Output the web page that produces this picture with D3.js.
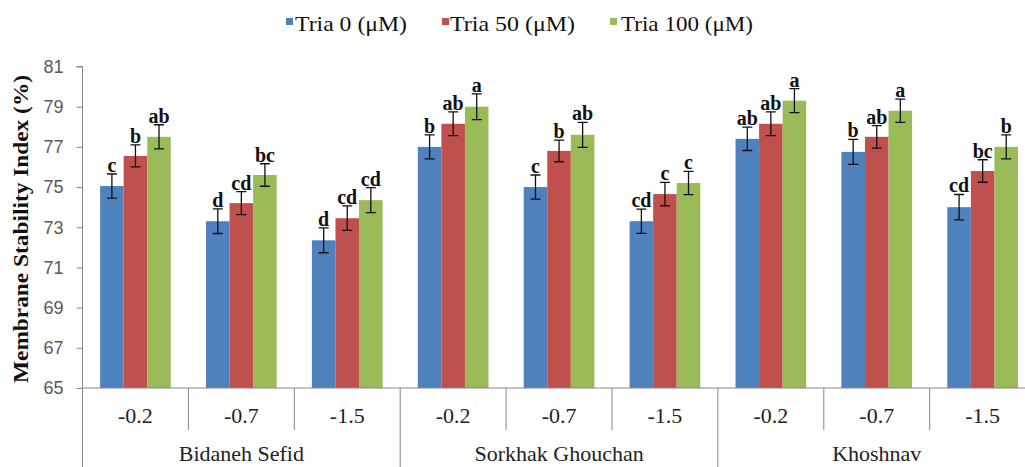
<!DOCTYPE html>
<html>
<head>
<meta charset="utf-8">
<script src="https://cdn.jsdelivr.net/npm/d3@7/dist/d3.min.js"></script>
<style>
  html, body { margin: 0; padding: 0; background: #fff; }
  svg { display: block; }
</style>
</head>
<body>
<svg id="chart" width="1025" height="467"></svg>
<script>
// ---------- DATA ----------
const cultivars = ["Bidaneh Sefid", "Sorkhak Ghouchan", "Khoshnav"];
const potentials = ["-0.2", "-0.7", "-1.5"];
const seriesNames = ["Tria 0 (\u03bcM)", "Tria 50 (\u03bcM)", "Tria 100 (\u03bcM)"];
const yTicks = [65, 67, 69, 71, 73, 75, 77, 79, 81];

// values per category (cultivar x potential), order follows cultivars then potentials
const tria0   = [75.05, 73.3, 72.35, 77.0, 75.0, 73.3, 77.4, 76.75, 74.0];
const tria50  = [76.55, 74.2, 73.45, 78.15, 76.8, 74.65, 78.15, 77.5, 75.8];
const tria100 = [77.5, 75.6, 74.35, 79.0, 77.6, 75.2, 79.3, 78.8, 77.0];

const err0   = [0.60, 0.61, 0.62, 0.60, 0.60, 0.60, 0.58, 0.62, 0.63];
const err50  = [0.55, 0.57, 0.61, 0.59, 0.54, 0.58, 0.59, 0.56, 0.56];
const err100 = [0.60, 0.56, 0.62, 0.64, 0.62, 0.58, 0.60, 0.58, 0.60];

const let0   = ["c", "d", "d", "b", "c", "cd", "ab", "b", "cd"];
const let50  = ["b", "cd", "cd", "ab", "b", "c", "ab", "ab", "bc"];
const let100 = ["ab", "bc", "cd", "a", "ab", "c", "a", "a", "b"];

// ---------- LAYOUT / STYLE ----------
const colors = ["#4F81BD", "#C0504D", "#9BBB59"];
const serif = "'Liberation Serif', 'Times New Roman', serif";
const sans = "'Liberation Sans', Arial, sans-serif";
const axisColor = "#868686";

const plotLeft = 82.5, plotRight = 1035.6, plotTop = 66.5, plotBottom = 388;

const svg = d3.select("#chart");

const categories = [];
cultivars.forEach(c => potentials.forEach(p => categories.push(c + "|" + p)));

const seriesValues = [tria0, tria50, tria100];
const seriesErr = [err0, err50, err100];
const seriesLetters = [let0, let50, let100];

const x0 = d3.scaleBand().domain(categories).range([plotLeft, plotRight]).paddingInner(0).paddingOuter(0);
const x1 = d3.scaleBand().domain(d3.range(seriesNames.length)).range([0, x0.bandwidth()])
  .paddingInner(0).paddingOuter(0.747);
const y = d3.scaleLinear().domain([65, 81]).range([plotBottom, plotTop]);

// ---------- Y AXIS ----------
const yAxis = d3.axisLeft(y).tickValues(yTicks).tickSize(6).tickPadding(13).tickFormat(d3.format("d"));
const gy = svg.append("g").attr("transform", `translate(${plotLeft},0)`).call(yAxis);
gy.select(".domain").attr("stroke", axisColor).attr("d", `M-6,${y(81)}H0V${y(65)}`);
gy.selectAll(".tick line").attr("stroke", axisColor);
gy.selectAll(".tick text").attr("fill", "#595959").style("font-family", sans).style("font-size", "18px");

// Y title
svg.append("text")
  .attr("transform", `translate(28,${(75 + 383) / 2}) rotate(-90)`)
  .attr("text-anchor", "middle")
  .attr("textLength", 308).attr("lengthAdjust", "spacingAndGlyphs")
  .style("font-family", serif).style("font-weight", "bold").style("font-size", "22px")
  .attr("fill", "#111")
  .text("Membrane Stability Index (%)");

// ---------- BARS ----------
const groups = svg.append("g").selectAll("g.cat").data(categories).join("g")
  .attr("class", "cat").attr("transform", d => `translate(${x0(d)},0)`);

groups.each(function (cat, ci) {
  const g = d3.select(this);
  seriesValues.forEach((vals, si) => {
    const v = vals[ci];
    const e = seriesErr[si][ci];
    const bx = x1(si), bw = x1.bandwidth();
    g.append("rect")
      .attr("x", bx).attr("width", bw)
      .attr("y", y(v)).attr("height", y(65) - y(v))
      .attr("fill", colors[si]);
    const cx = bx + bw / 2;
    const capW = 5;
    g.append("path")
      .attr("d", `M${cx},${y(v + e)}V${y(v - e)}M${cx - capW},${y(v + e)}H${cx + capW}M${cx - capW},${y(v - e)}H${cx + capW}`)
      .attr("stroke", "#111").attr("stroke-width", 1.3).attr("fill", "none");
    g.append("text")
      .attr("x", cx).attr("y", y(v + e) - 2)
      .attr("text-anchor", "middle")
      .style("font-family", serif).style("font-weight", "bold").style("font-size", "20px")
      .attr("fill", "#111")
      .text(seriesLetters[si][ci]);
  });
});

// ---------- X AXIS (multi-level) ----------
const ax = svg.append("g").attr("stroke", axisColor).attr("stroke-width", 1);
ax.append("line").attr("x1", plotLeft).attr("x2", plotRight).attr("y1", plotBottom).attr("y2", plotBottom);
categories.forEach((c, i) => {
  const xl = x0(c);
  const isGroupEdge = i % potentials.length === 0;
  ax.append("line").attr("x1", xl).attr("x2", xl)
    .attr("y1", plotBottom).attr("y2", isGroupEdge ? 467 : 430);
});
ax.append("line").attr("x1", plotRight).attr("x2", plotRight).attr("y1", plotBottom).attr("y2", 467);

svg.append("g").selectAll("text").data(categories).join("text")
  .attr("x", d => x0(d) + x0.bandwidth() / 2).attr("y", 423)
  .attr("text-anchor", "middle")
  .style("font-family", serif).style("font-size", "22px").attr("fill", "#222")
  .text(d => d.split("|")[1]);

svg.append("g").selectAll("text").data(cultivars).join("text")
  .attr("x", (d, i) => {
    const first = x0(d + "|" + potentials[0]);
    const last = x0(d + "|" + potentials[potentials.length - 1]) + x0.bandwidth();
    return (first + last) / 2;
  })
  .attr("y", 461)
  .attr("text-anchor", "middle")
  .style("font-family", serif).style("font-size", "22px").attr("fill", "#222")
  .text(d => d);

// ---------- LEGEND ----------
const legendSquareX = [286, 442, 610];
const legendTextX = [295, 450, 621];
const legendTextW = [112, 125, 132];
const legend = svg.append("g");
seriesNames.forEach((n, i) => {
  legend.append("rect").attr("x", legendSquareX[i]).attr("y", 18).attr("width", 7).attr("height", 7).attr("fill", colors[i]);
  legend.append("text").attr("x", legendTextX[i]).attr("y", 31)
    .attr("textLength", legendTextW[i]).attr("lengthAdjust", "spacingAndGlyphs")
    .style("font-family", serif).style("font-size", "22px").attr("fill", "#111")
    .text(n);
});
</script>
</body>
</html>
